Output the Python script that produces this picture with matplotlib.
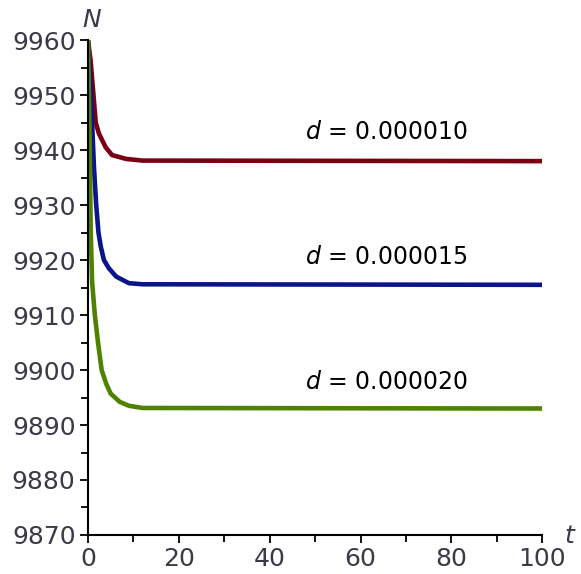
import matplotlib
matplotlib.use("Agg")
import matplotlib.pyplot as plt
from matplotlib.ticker import MultipleLocator

# values
t_red = [0, 0.3, 0.6, 1.2, 1.7, 2.4, 3.9, 5.3, 8.4, 12, 100]
n_red = [9960, 9958, 9956, 9950, 9945, 9943, 9940.5, 9939.1, 9938.4, 9938.1, 9938.0]

t_blue = [0, 0.5, 0.9, 1.3, 1.8, 2.3, 2.8, 3.5, 4.6, 6.2, 9, 12, 100]
n_blue = [9960, 9952, 9945, 9937, 9930, 9925, 9922.5, 9920, 9918.5, 9917, 9915.8, 9915.6, 9915.5]

t_green = [0, 0.3, 0.6, 0.9, 1.5, 2.2, 3, 4, 5, 7, 9, 12, 100]
n_green = [9960, 9945, 9925, 9916, 9910, 9905, 9900, 9897.5, 9895.7, 9894.2, 9893.5, 9893.1, 9893.0]

labels = ["$d$ = 0.000010", "$d$ = 0.000015", "$d$ = 0.000020"]
label_y = [9942.0, 9919.3, 9896.5]
colors = ["#7a0014", "#0a148c", "#4f8200"]

fig = plt.figure(figsize=(5.81, 5.74), dpi=100)
ax = fig.add_axes([0.1515, 0.068, 0.782, 0.862])

ax.plot(t_red, n_red, color=colors[0], lw=3.3, solid_joinstyle="miter")
ax.plot(t_blue, n_blue, color=colors[1], lw=3.3, solid_joinstyle="miter")
ax.plot(t_green, n_green, color=colors[2], lw=3.3, solid_joinstyle="miter")

for lab, y in zip(labels, label_y):
    ax.text(47.8, y, lab, fontsize=17, ha="left", va="baseline")

ax.set_xlim(0, 100)
ax.set_ylim(9870, 9960)
ax.xaxis.set_major_locator(MultipleLocator(20))
ax.xaxis.set_minor_locator(MultipleLocator(10))
ax.yaxis.set_major_locator(MultipleLocator(10))
ax.yaxis.set_minor_locator(MultipleLocator(5))
ax.tick_params(which="both", direction="out", width=1.3, colors="black",
               labelcolor="#3a3a48", labelsize=18, pad=3)
ax.tick_params(which="major", length=6)
ax.tick_params(which="minor", length=5)
ax.spines["top"].set_visible(False)
ax.spines["right"].set_visible(False)
ax.spines["left"].set_linewidth(1.5)
ax.spines["bottom"].set_linewidth(1.5)

fig.text(0.157, 0.965, "N", fontsize=18, style="italic", color="#3a3a48",
         ha="center", va="center")
fig.text(0.979, 0.066, "t", fontsize=18, style="italic", color="#3a3a48",
         ha="center", va="center")

fig.savefig("out.png", dpi=100)
